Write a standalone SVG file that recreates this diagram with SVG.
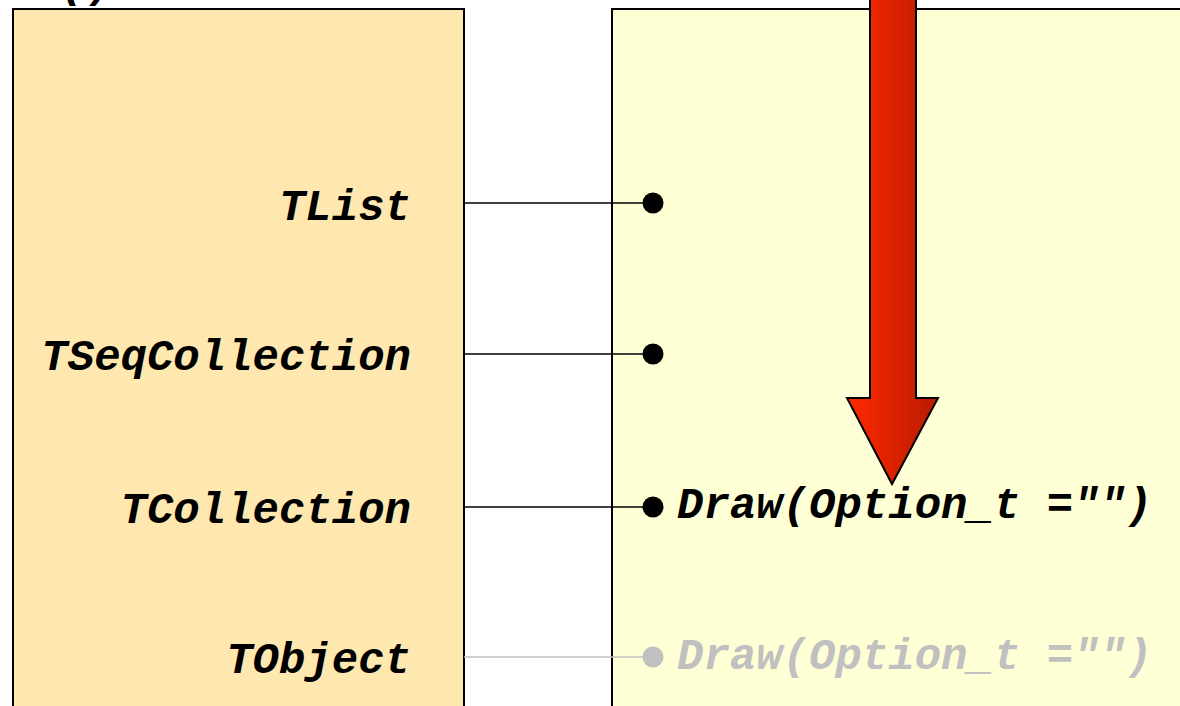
<svg xmlns="http://www.w3.org/2000/svg" width="1180" height="706" viewBox="0 0 1180 706">
  <defs>
    <linearGradient id="arrowFill" x1="0" y1="0" x2="1" y2="0">
      <stop offset="0" stop-color="#ff2a00"/>
      <stop offset="1" stop-color="#b81a00"/>
    </linearGradient>
    <style>
      .panel { stroke: #000; stroke-width: 2; }
      .cls { font-family: "Liberation Mono", "Courier New", monospace; font-weight: bold; font-style: italic; font-size: 44px; fill: #000; text-anchor: end; }
      .meth { font-family: "Liberation Mono", "Courier New", monospace; font-weight: bold; font-style: italic; font-size: 44px; fill: #000; }
      .link { stroke: #000; stroke-width: 1.6; fill: none; }
      .dot { fill: #000; }
      .faded { stroke: #c0c0c0; }
      .faded-fill { fill: #c0c0c0; }
    </style>
  </defs>

  <rect width="1180" height="706" fill="#fff"/>

  <!-- label above the class column, mostly off the top edge -->
  <text class="meth" x="60" y="-3">()</text>

  <!-- class hierarchy column -->
  <g id="classes">
    <rect class="panel" x="13" y="9" width="451" height="720" fill="#ffe8b0"/>
    <text class="cls" x="411" y="220">TList</text>
    <text class="cls" x="411" y="370">TSeqCollection</text>
    <text class="cls" x="411" y="523">TCollection</text>
    <text class="cls" x="411" y="673">TObject</text>
  </g>

  <!-- method column -->
  <g id="methods">
    <rect class="panel" x="612" y="9" width="600" height="720" fill="#ffffd5"/>
    <text class="meth" x="677" y="518">Draw(Option_t ="")</text>
    <text class="meth faded-fill" x="677" y="669">Draw(Option_t ="")</text>
  </g>

  <!-- lookup direction -->
  <g id="search-arrow">
    <path d="M870,-10 L916,-10 L916,398 L938,398 L892,484 L847,398 L870,398 Z" fill="url(#arrowFill)" stroke="#000" stroke-width="2" stroke-linejoin="miter"/>
  </g>

  <!-- connectors -->
  <g id="connectors">
    <line class="link" x1="464" y1="203" x2="653" y2="203"/>
    <circle class="dot" cx="653" cy="203" r="10.5"/>
    <line class="link" x1="464" y1="354" x2="653" y2="354"/>
    <circle class="dot" cx="653" cy="354" r="10.5"/>
    <line class="link" x1="464" y1="507" x2="653" y2="507"/>
    <circle class="dot" cx="653" cy="507" r="10.5"/>
    <line class="link faded" x1="464" y1="657" x2="653" y2="657"/>
    <circle class="dot faded-fill" cx="653" cy="657" r="10.5"/>
  </g>
</svg>
